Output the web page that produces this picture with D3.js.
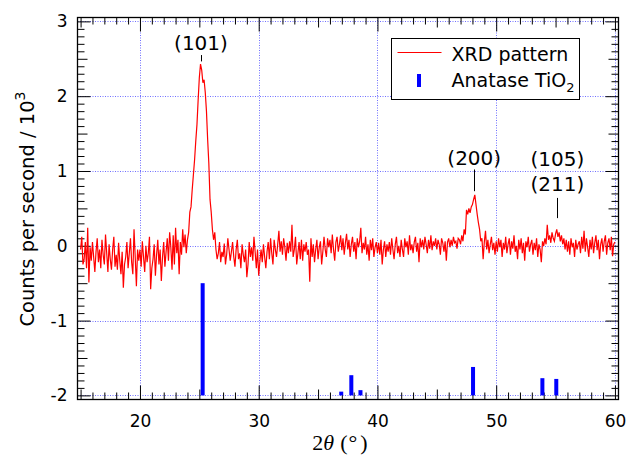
<!DOCTYPE html>
<html>
<head>
<meta charset="utf-8">
<script src="https://cdn.jsdelivr.net/npm/d3@7"></script>
<style>
    body { margin: 0; background: #fff; }
    text { font-family: "DejaVu Sans", sans-serif; fill: #000; }
</style>
</head>
<body>
<div id="xrdChart"></div>
<script>
// measured pattern, counts per second / 10^3, 0.1 deg steps from 15.0
const xrdStart = 15.0, xrdStep = 0.1;
const xrdCounts = [
    -0.05, 0.12, -0.25, -0.18, 0.05, -0.30, 0.24, -0.49, -0.02, -0.20,   // 15
    0.05, -0.15, -0.35, -0.08, 0.10, -0.22, -0.05, -0.30, 0.08, -0.12,    // 16
    -0.25, 0.15, -0.10, -0.35, 0.02, -0.18, -0.32, -0.05, 0.12, -0.28,    // 17
    -0.12, -0.32, 0.04, -0.20, -0.38, -0.08, -0.56, -0.25, -0.15, 0.05,   // 18
    -0.30, -0.10, 0.10, -0.22, -0.38, 0.22, -0.15, -0.54, -0.05, -0.20,   // 19
    -0.05, -0.28, 0.06, -0.15, -0.35, 0.00, -0.22, -0.10, 0.12, -0.58,    // 20
    -0.30, -0.18, 0.02, -0.40, -0.12, 0.08, -0.25, -0.05, -0.47, -0.15,   // 21
    0.05, -0.28, -0.08, 0.10, -0.20, 0.18, -0.02, -0.32, 0.14, -0.25,     // 22
    0.24, -0.10, 0.08, -0.38, 0.05, -0.12, 0.22, -0.02, 0.15, -0.10,      // 23
    0.08, 0.18, 0.45, 0.52, 0.75, 0.95, 1.15, 1.40, 1.62, 1.95,           // 24
    2.25, 2.43, 2.35, 2.18, 2.22, 2.05, 1.80, 1.42, 1.10, 0.62,           // 25
    0.45, 0.22, 0.08, 0.18, -0.05, -0.18, -0.10, 0.05, -0.22, -0.08,      // 26
    -0.15, 0.03, -0.25, -0.12, 0.10, -0.05, -0.20, -0.08, 0.05, -0.15,    // 27
    -0.28, -0.05, 0.08, -0.18, -0.10, -0.30, 0.02, -0.12, -0.22, -0.05,   // 28
    -0.42, -0.25, 0.05, -0.15, -0.02, -0.20, 0.12, -0.08, -0.30, -0.05,   // 29
    -0.40, -0.20, -0.05, -0.22, 0.02, -0.15, -0.30, -0.08, 0.05, -0.18,   // 30
    0.10, -0.10, -0.25, 0.08, -0.05, -0.15, 0.02, 0.20, -0.08, 0.06,      // 31
    -0.12, 0.10, -0.02, -0.20, 0.04, -0.10, 0.06, -0.08, 0.28, -0.15,     // 32
    -0.05, 0.12, -0.25, -0.10, 0.05, -0.18, 0.08, -0.20, 0.02, -0.08,     // 33
    0.05, -0.12, -0.05, -0.48, 0.10, -0.15, 0.02, -0.22, -0.05, 0.08,     // 34
    -0.18, -0.02, 0.06, -0.25, -0.08, 0.12, -0.05, -0.15, 0.10, -0.02,    // 35
    0.08, -0.10, 0.15, -0.05, -0.20, 0.05, 0.12, -0.08, 0.02, 0.14,       // 36
    -0.06, 0.10, -0.12, 0.04, 0.16, -0.05, 0.08, -0.15, 0.02, 0.12,       // 37
    -0.08, 0.05, -0.18, 0.10, -0.02, 0.06, 0.24, -0.10, 0.04, -0.05,      // 38
    0.12, -0.12, 0.02, -0.20, 0.08, -0.06, 0.10, -0.15, -0.02, 0.05,      // 39
    -0.10, 0.04, -0.12, 0.08, -0.25, -0.05, 0.06, -0.15, 0.02, -0.08,     // 40
    0.05, -0.12, 0.10, -0.05, -0.18, 0.02, 0.12, -0.10, 0.00, -0.15,      // 41
    0.08, -0.05, -0.15, 0.10, -0.02, 0.06, -0.12, 0.14, -0.06, 0.02,      // 42
    -0.10, 0.05, 0.12, -0.08, 0.04, -0.22, 0.10, -0.02, 0.08, -0.05,      // 43
    0.12, 0.02, -0.10, 0.08, -0.04, 0.14, -0.06, 0.06, 0.00, 0.10,        // 44
    -0.05, 0.08, 0.02, -0.12, 0.10, 0.04, -0.08, 0.06, -0.20, 0.05,       // 45
    0.10, -0.02, 0.08, 0.00, 0.12, 0.04, 0.06, -0.04, 0.10, 0.08,         // 46
    0.02, 0.14, 0.06, 0.22, 0.15, 0.48, 0.42, 0.50, 0.44, 0.52,           // 47
    0.55, 0.62, 0.68, 0.55, 0.42, 0.31, 0.22, 0.06, 0.10, -0.18,          // 48
    0.05, 0.20, -0.05, 0.08, -0.10, 0.02, 0.12, -0.06, 0.04, -0.12,       // 49
    0.06, -0.08, 0.10, -0.02, 0.08, -0.15, 0.04, -0.05, 0.12, -0.10,      // 50
    0.02, 0.10, -0.12, 0.06, -0.04, 0.14, -0.08, 0.00, -0.18, 0.08,       // 51
    -0.05, 0.10, -0.10, 0.04, -0.20, 0.06, -0.02, 0.12, -0.08, 0.02,      // 52
    0.08, -0.12, 0.04, -0.06, 0.10, -0.15, 0.02, -0.05, -0.22, 0.06,      // 53
    0.00, 0.10, 0.02, 0.28, 0.08, 0.14, 0.04, 0.18, 0.10, 0.06,           // 54
    0.16, 0.22, 0.12, 0.18, 0.06, 0.14, 0.02, 0.10, -0.05, 0.08,          // 55
    -0.08, 0.06, -0.12, 0.10, -0.02, 0.04, -0.15, 0.08, -0.05, 0.02,      // 56
    0.06, -0.10, 0.12, -0.04, 0.20, -0.08, 0.10, -0.02, -0.15, 0.08,      // 57
    -0.05, 0.12, -0.10, 0.04, 0.14, -0.06, 0.08, -0.18, 0.02, 0.10,       // 58
    -0.08, 0.06, 0.14, -0.12, 0.04, 0.10, -0.06, 0.12, -0.14, 0.02,       // 59
    0.05                                                                  // 60
];

// anatase TiO2 reference lines (stick tops, drawn up from -2)
const refAngles = [25.28, 36.95, 37.80, 38.57, 48.05, 53.89, 55.06];
const refTops = [-0.50, -1.95, -1.73, -1.93, -1.62, -1.77, -1.78];
const refBase = -2;

// peak labels
const peakLabels = ["(101)", "(200)", "(105)", "(211)"];
const peakLabelAngles = [25.14, 48.15, 55.15, 55.15];
const peakLabelY = [2.62, 1.085, 1.063, 0.73];
const peakMarkAngles = [25.14, 48.15, 55.1];
const peakMarkFrom = [2.55, 1.02, 0.64];
const peakMarkTo = [2.465, 0.73, 0.37];

const xMajor = [20, 30, 40, 50, 60];
const yMajor = [-2, -1, 0, 1, 2, 3];

const width = 629, height = 460;
const plot = { left: 77.5, right: 618.5, top: 17.5, bottom: 399.5 };

const svg = d3.select("#xrdChart")
    .append("svg")
    .attr("width", width)
    .attr("height", height);

const x = d3.scaleLinear()
    .domain([14.74, 60.30])
    .range([plot.left, plot.right]);

const y = d3.scaleLinear()
    .domain([-2.055, 3.052])
    .range([plot.bottom, plot.top]);

// grid
svg.append("g")
    .selectAll("line")
    .data(xMajor)
    .join("line")
    .attr("x1", d => Math.round(x(d)) + 0.5)
    .attr("x2", d => Math.round(x(d)) + 0.5)
    .attr("y1", plot.top)
    .attr("y2", plot.bottom)
    .attr("stroke", "#7070ff")
    .attr("stroke-dasharray", "1,1.5");

svg.append("g")
    .selectAll("line")
    .data(yMajor)
    .join("line")
    .attr("x1", plot.left)
    .attr("x2", plot.right)
    .attr("y1", d => Math.round(y(d)) + 0.5)
    .attr("y2", d => Math.round(y(d)) + 0.5)
    .attr("stroke", "#7070ff")
    .attr("stroke-dasharray", "1,1.5");

// ticks: minor, mid and major, all pointing into the plot
const xMinor = d3.range(15, 61, 1).filter(d => d % 5 != 0);
const xMid = [15, 25, 35, 45, 55];
const yMinor = d3.range(-20, 31, 1).filter(d => d % 5 != 0).map(d => d / 10);
const yMid = [-1.5, -0.5, 0.5, 1.5, 2.5];

function addTicks(axis, transform, values, len, labels) {
    axis.tickValues(values).tickSizeInner(-len).tickSizeOuter(0);
    if (labels) {
        axis.tickFormat(d => String(d));
    } else {
        axis.tickFormat("");
    }
    const g = svg.append("g")
        .attr("transform", transform)
        .call(axis);
    g.select(".domain").remove();
    g.selectAll("line").attr("stroke", "#000");
    g.selectAll("text")
        .style("font-family", "DejaVu Sans, sans-serif")
        .style("font-size", "17px")
        .attr("fill", "#000");
    return g;
}

addTicks(d3.axisBottom(x), `translate(0,${plot.bottom})`, xMinor, 7, false);
addTicks(d3.axisBottom(x), `translate(0,${plot.bottom})`, xMid, 10, false);
addTicks(d3.axisBottom(x).tickPadding(15), `translate(0,${plot.bottom})`, xMajor, 14, true);
addTicks(d3.axisTop(x), `translate(0,${plot.top})`, xMinor, 7, false);
addTicks(d3.axisTop(x), `translate(0,${plot.top})`, xMid, 10, false);
addTicks(d3.axisTop(x), `translate(0,${plot.top})`, xMajor, 14, false);

addTicks(d3.axisLeft(y), `translate(${plot.left},0)`, yMinor, 7, false);
addTicks(d3.axisLeft(y), `translate(${plot.left},0)`, yMid, 10, false);
addTicks(d3.axisLeft(y).tickPadding(10), `translate(${plot.left},0)`, yMajor, 13, true);
addTicks(d3.axisRight(y), `translate(${plot.right},0)`, yMinor, 7, false);
addTicks(d3.axisRight(y), `translate(${plot.right},0)`, yMid, 10, false);
addTicks(d3.axisRight(y), `translate(${plot.right},0)`, yMajor, 13, false);

// reference sticks
svg.append("g")
    .selectAll("rect")
    .data(refAngles)
    .join("rect")
    .attr("x", d => x(d) - 2)
    .attr("width", 4)
    .attr("y", (d, i) => y(refTops[i]))
    .attr("height", (d, i) => y(refBase) - y(refTops[i]))
    .attr("fill", "#0000ff");

// measured pattern
const xrdData = xrdCounts.map((v, i) => ({ angle: xrdStart + i * xrdStep, value: v }));

svg.append("path")
    .datum(xrdData)
    .attr("fill", "none")
    .attr("stroke", "#ff0000")
    .attr("stroke-width", 1.2)
    .attr("d", d3.line()
        .x(d => x(d.angle))
        .y(d => y(d.value)));

// frame
svg.append("rect")
    .attr("x", plot.left)
    .attr("y", plot.top)
    .attr("width", plot.right - plot.left)
    .attr("height", plot.bottom - plot.top)
    .attr("fill", "none")
    .attr("stroke", "#000")
    .attr("stroke-width", 1.3);

// peak labels
svg.append("g")
    .selectAll("text")
    .data(peakLabels)
    .join("text")
    .attr("x", (d, i) => x(peakLabelAngles[i]))
    .attr("y", (d, i) => y(peakLabelY[i]))
    .attr("text-anchor", "middle")
    .style("font-size", "20px")
    .text(d => d);

svg.append("g")
    .selectAll("line")
    .data(peakMarkAngles)
    .join("line")
    .attr("x1", d => Math.round(x(d)) + 0.5)
    .attr("x2", d => Math.round(x(d)) + 0.5)
    .attr("y1", (d, i) => y(peakMarkFrom[i]))
    .attr("y2", (d, i) => y(peakMarkTo[i]))
    .attr("stroke", "#000")
    .attr("stroke-width", 1);

// legend
const legend = svg.append("g").attr("transform", "translate(391.5,38.5)");
legend.append("rect")
    .attr("width", 188)
    .attr("height", 61)
    .attr("fill", "#fff")
    .attr("stroke", "#000")
    .attr("stroke-width", 1);
legend.append("line")
    .attr("x1", 6).attr("x2", 50)
    .attr("y1", 14).attr("y2", 14)
    .attr("stroke", "#ff0000")
    .attr("stroke-width", 1.2);
legend.append("text")
    .attr("x", 60).attr("y", 22)
    .style("font-size", "19px")
    .text("XRD pattern");
legend.append("rect")
    .attr("x", 25.5).attr("y", 35.5)
    .attr("width", 4).attr("height", 13)
    .attr("fill", "#0000ff");
const anatase = legend.append("text")
    .attr("x", 60).attr("y", 48)
    .style("font-size", "19px");
anatase.append("tspan").text("Anatase TiO");
anatase.append("tspan").attr("dy", 5).style("font-size", "13px").text("2");

// axis titles
const yTitle = svg.append("text")
    .attr("transform", "translate(34,209) rotate(-90)")
    .attr("text-anchor", "middle")
    .style("font-size", "19.5px");
yTitle.append("tspan").text("Counts per second / 10");
yTitle.append("tspan").attr("dy", -9).style("font-size", "14px").text("3");

const xTitle = svg.append("text")
    .attr("x", 340)
    .attr("y", 450)
    .attr("text-anchor", "middle")
    .style("font-family", "Liberation Serif, serif")
    .style("font-size", "22px");
xTitle.append("tspan").text("2");
xTitle.append("tspan").style("font-style", "italic").text("θ");
xTitle.append("tspan").attr("dx", 6).text("(");
xTitle.append("tspan").attr("dx", 1).text("°");
xTitle.append("tspan").attr("dx", 3).text(")");
</script>
</body>
</html>
